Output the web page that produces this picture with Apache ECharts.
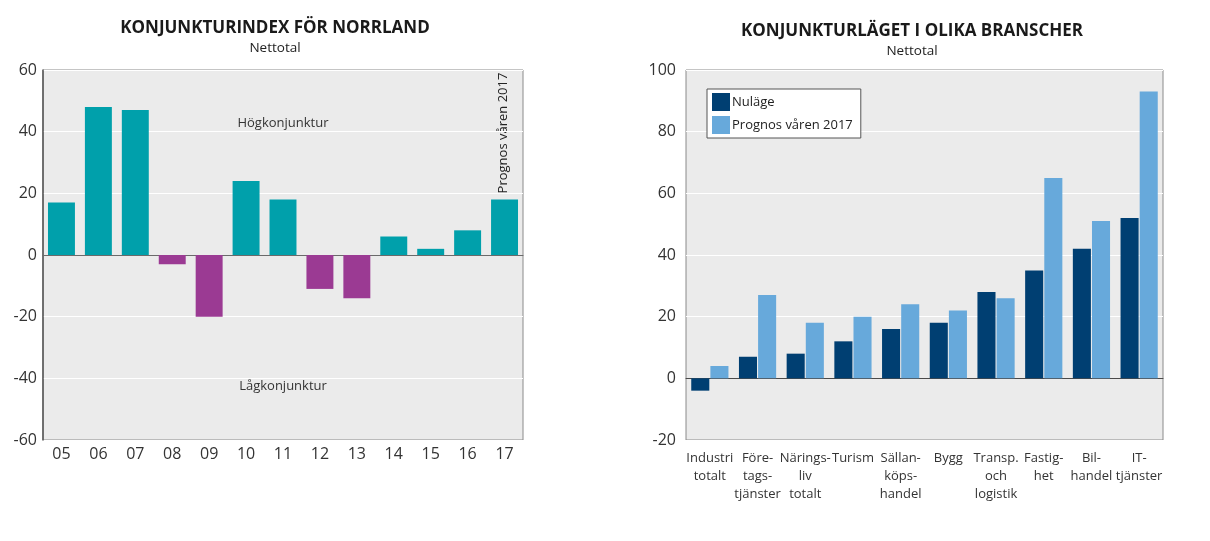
<!DOCTYPE html>
<html><head><meta charset="utf-8">
<script src="https://cdn.jsdelivr.net/npm/echarts@6/dist/echarts.min.js"></script>
<style>html,body{margin:0;padding:0;background:#fff}#c{width:1210px;height:541px}</style>
</head><body><div id="c"></div>
<script>
var yearLabels = ['05','06','07','08','09','10','11','12','13','14','15','16','17'];
var indexValues = [17,48,47,-3,-20,24,18,-11,-14,6,2,8,18];
var branchLabels = ['Industri\ntotalt','Före-\ntags-\ntjänster','Närings-\nliv\ntotalt','Turism','Sällan-\nköps-\nhandel','Bygg','Transp.\noch\nlogistik','Fastig-\nhet','Bil-\nhandel','IT-\ntjänster'];
var nulage = [-4,7,8,12,16,18,28,35,42,52];
var prognos = [4,27,18,20,24,22,26,65,51,93];
var leftTicks = [-60,-40,-20,0,20,40,60];
var rightTicks = [-20,0,20,40,60,80,100];

var FONT = '"Open Sans","Noto Sans",sans-serif';
var chart = echarts.init(document.getElementById('c'));
chart.setOption({
  animation:false,
  textStyle:{fontFamily:FONT},
  title:[
    {text:'KONJUNKTURINDEX FÖR NORRLAND',subtext:'Nettotal',left:270,top:15,textAlign:'center',itemGap:4,
     textStyle:{fontSize:17,fontWeight:'bold',color:'#1a1a1a',fontFamily:FONT},
     subtextStyle:{fontSize:13.5,color:'#222',fontFamily:FONT}},
    {text:'KONJUNKTURLÄGET I OLIKA BRANSCHER',subtext:'Nettotal',left:907,top:18,textAlign:'center',itemGap:4,
     textStyle:{fontSize:17,fontWeight:'bold',color:'#1a1a1a',fontFamily:FONT},
     subtextStyle:{fontSize:13.5,color:'#222',fontFamily:FONT}}
  ],
  legend:{
    left:707,top:89,orient:'vertical',itemWidth:18,itemHeight:18,itemGap:5,
    padding:[4,8,4,5],borderColor:'#555',borderWidth:1,backgroundColor:'#fff',
    data:['Nuläge','Prognos våren 2017'],
    textStyle:{fontSize:13,color:'#222',fontFamily:FONT,padding:[0,0,0,-3]},
    icon:'rect'
  },
  grid:[
    {left:43,top:70,width:480,height:370,show:true,backgroundColor:'#EBEBEB',borderColor:'#8a8a8a',borderWidth:1},
    {left:686,top:70,width:477,height:370,show:true,backgroundColor:'#EBEBEB',borderColor:'#8a8a8a',borderWidth:1}
  ],
  xAxis:[
    {type:'category',gridIndex:0,data:yearLabels,
     axisLine:{show:true,onZero:true,lineStyle:{color:'#6a6a6a',width:1}},
     axisTick:{show:false},
     axisLabel:{fontSize:16,color:'#333',margin:0,verticalAlign:'top',padding:[6,0,0,0]},
     splitLine:{show:false}},
    {type:'category',gridIndex:1,data:branchLabels,
     axisLine:{show:true,onZero:true,lineStyle:{color:'#4a4a4a',width:1}},
     axisTick:{show:false},
     axisLabel:{fontSize:13,color:'#333',interval:0,lineHeight:18,verticalAlign:'top',margin:0,padding:[9,0,0,0]},
     splitLine:{show:false}}
  ],
  yAxis:[
    {type:'value',gridIndex:0,min:-60,max:60,interval:20,
     axisLine:{show:true,lineStyle:{color:'#555',width:1.5}},
     axisTick:{show:false},
     axisLabel:{fontSize:16,color:'#333',margin:6},
     splitLine:{show:true,lineStyle:{color:'#fff',width:1}}},
    {type:'value',gridIndex:1,min:-20,max:100,interval:20,
     axisLine:{show:false},
     axisTick:{show:false},
     axisLabel:{fontSize:16,color:'#333',margin:10},
     splitLine:{show:true,lineStyle:{color:'#fff',width:1}}}
  ],
  series:[
    {type:'bar',xAxisIndex:0,yAxisIndex:0,data:indexValues,barCategoryGap:'27%',
     itemStyle:{color:function(p){return p.value>=0?'#00A0AB':'#9B3A93';}}},
    {name:'Nuläge',type:'bar',xAxisIndex:1,yAxisIndex:1,data:nulage,barGap:'6%',barCategoryGap:'22%',
     itemStyle:{color:'#003F72'}},
    {name:'Prognos våren 2017',type:'bar',xAxisIndex:1,yAxisIndex:1,data:prognos,barGap:'6%',barCategoryGap:'22%',
     itemStyle:{color:'#67A9DB'}}
  ],
  graphic:[
    {type:'text',x:283,y:123,style:{text:'Högkonjunktur',fontSize:13,fill:'#333',fontFamily:FONT,align:'center',verticalAlign:'middle'}},
    {type:'text',x:283,y:386,style:{text:'Lågkonjunktur',fontSize:13,fill:'#333',fontFamily:FONT,align:'center',verticalAlign:'middle'}},
    {type:'text',x:503,y:133,rotation:Math.PI/2,style:{text:'Prognos våren 2017',fontSize:13,fill:'#222',fontFamily:FONT,align:'center',verticalAlign:'middle'}}
  ]
});
</script></body></html>
